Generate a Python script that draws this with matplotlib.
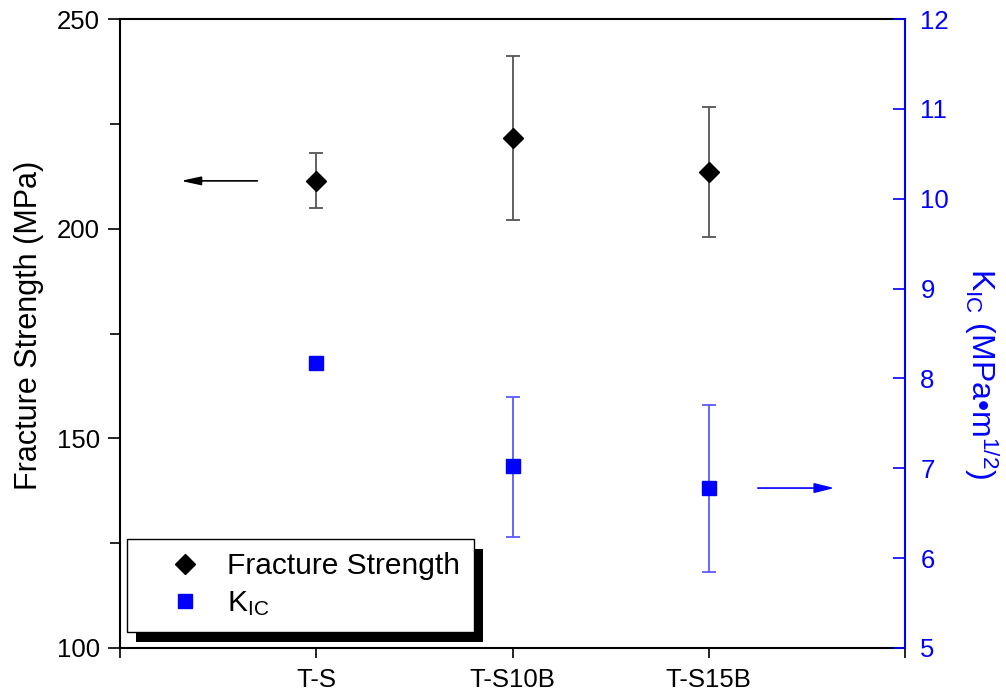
import matplotlib
matplotlib.use("Agg")
import matplotlib.pyplot as plt
from matplotlib.patches import Rectangle
import numpy as np

plt.rcParams["font.family"] = ["Liberation Sans", "DejaVu Sans"]
plt.rcParams["mathtext.fontset"] = "custom"
plt.rcParams["mathtext.rm"] = "Liberation Sans"
plt.rcParams["mathtext.it"] = "Liberation Sans"

# --- data ---
samples = ["T-S", "T-S10B", "T-S15B"]
strength = [211.4, 221.7, 213.5]          # MPa
strength_lo = [204.9, 202.1, 198.1]
strength_hi = [218.0, 241.2, 229.1]
kic = [8.17, 7.02, 6.78]                  # MPa m^1/2
kic_lo = [8.17, 6.23, 5.85]
kic_hi = [8.17, 7.79, 7.70]

BLUE = "#0000ff"
x = np.arange(1, len(samples) + 1)
s = np.array(strength)
k = np.array(kic)

fig = plt.figure(figsize=(10.06, 6.94), dpi=100)
ax = fig.add_axes([0.1193, 0.0663, 0.7803, 0.9063])
ax2 = ax.twinx()

fs_line = ax.errorbar(x, s, yerr=[s - np.array(strength_lo), np.array(strength_hi) - s],
                      fmt="D", color="black", ms=10, ecolor="#555555",
                      elinewidth=1.3, capsize=4.7, capthick=1.3, zorder=3)
k_line = ax2.errorbar(x, k, yerr=[k - np.array(kic_lo), np.array(kic_hi) - k],
                      fmt="s", color=BLUE, ms=10, ecolor="#5a5aff",
                      elinewidth=1.3, capsize=4.7, capthick=1.3, zorder=3)

# arrows pointing to the matching axis
ax.annotate("", xy=(0.31, strength[0]), xytext=(0.70, strength[0]),
            arrowprops=dict(arrowstyle="-|>,head_length=0.6,head_width=0.13",
                            color="black", lw=1.2, mutation_scale=20,
                            shrinkA=0, shrinkB=0))
ax2.annotate("", xy=(3.64, kic[-1]), xytext=(3.25, kic[-1]),
             arrowprops=dict(arrowstyle="-|>,head_length=0.6,head_width=0.15",
                             color=BLUE, lw=1.2, mutation_scale=20,
                             shrinkA=0, shrinkB=0))

# axes, ticks
ax.set_xlim(0, 4)
ax.set_ylim(100, 250)
ax2.set_ylim(5, 12)
ax.set_xticks(np.arange(0, 5), [""] + samples + [""])
ax.set_yticks([100, 150, 200, 250])
ax.set_yticks([125, 175, 225], minor=True)
ax2.set_yticks(np.arange(5, 13))

ax.tick_params(axis="x", direction="out", length=7.5, width=1.2, labelsize=18.5, pad=7)
ax.tick_params(axis="y", which="major", direction="out", length=8.5, width=1.2,
               labelsize=18.5, pad=6)
ax.tick_params(axis="y", which="minor", direction="out", length=7.5, width=1.2)
ax.tick_params(axis="y", which="both", right=False)
ax2.tick_params(axis="y", direction="in", length=8.5, width=1.2, labelsize=18.5,
                pad=11, colors=BLUE)

for side in ["left", "top", "bottom"]:
    ax.spines[side].set_linewidth(1.5)
    ax2.spines[side].set_visible(False)
ax.spines["right"].set_visible(False)
ax2.spines["right"].set_color(BLUE)
ax2.spines["right"].set_linewidth(1.5)

ax.set_ylabel("Fracture Strength (MPa)", fontsize=22, va="center")
ax.yaxis.set_label_coords(-0.116, 0.513)
ax2.set_ylabel(r"K$_{\rm IC}$ (MPa•m$^{\rm 1/2}$)", fontsize=23, color=BLUE,
               rotation=-90, va="center")
ax2.yaxis.set_label_coords(1.098, 0.437)

# legend with a hard black drop shadow
handles = [fs_line[0], k_line[0]]
leg = ax2.legend(handles, ["Fracture Strength", r"K$_{\rm IC}$"],
                 loc="upper left", bbox_to_anchor=(0.0085, 0.1733),
                 borderaxespad=0, fontsize=21.5, fancybox=False, framealpha=1,
                 edgecolor="black", borderpad=0.45, handlelength=3.0,
                 handletextpad=-0.08, labelspacing=0.3, numpoints=1)
leg.get_frame().set_linewidth(1.0)
leg.set_zorder(6)

fig.canvas.draw()
bb = leg.get_window_extent().transformed(ax2.transAxes.inverted())
dx, dy = 9.5 / (0.7803 * 1006), 10 / (0.9063 * 694)
ax2.add_patch(Rectangle((bb.x0 + dx, bb.y0 - dy), bb.width, bb.height,
                        transform=ax2.transAxes, facecolor="black",
                        edgecolor="none", zorder=5, clip_on=False))

fig.savefig("out.png", dpi=100)
